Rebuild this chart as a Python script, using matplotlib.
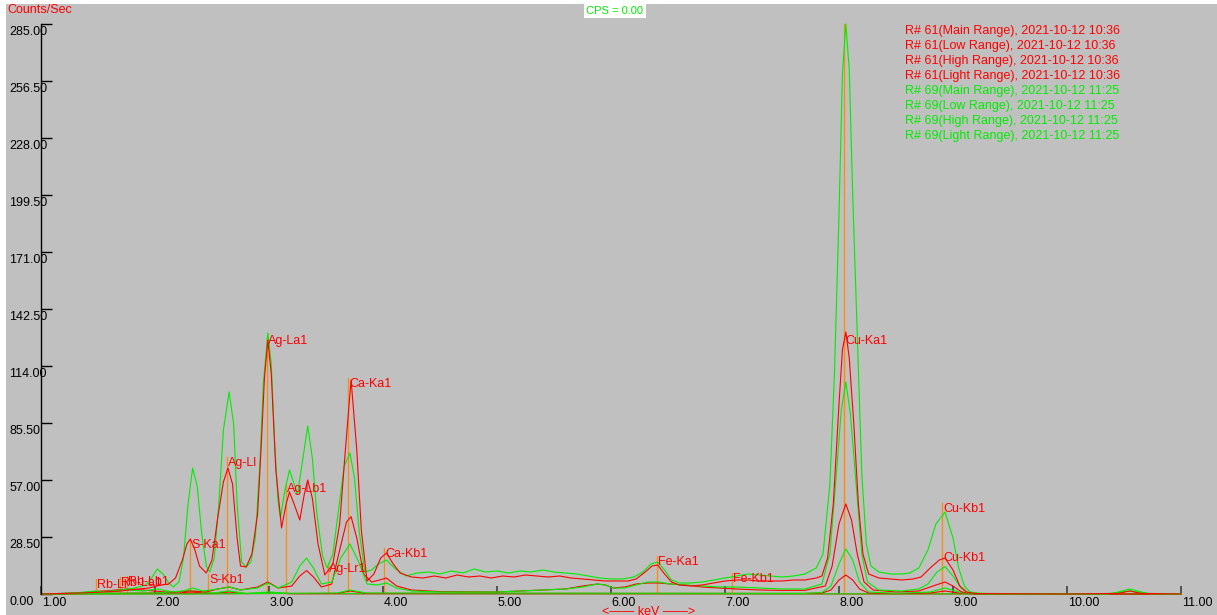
import matplotlib
matplotlib.use('Agg')
import matplotlib.pyplot as plt
from matplotlib.patches import Rectangle

plt.rcParams['font.family'] = ['Liberation Sans', 'DejaVu Sans']

# --- spectra (keV, counts/sec) ---
# R# 61 Main Range
r_main_kev = [1.00, 1.20, 1.40, 1.55, 1.70, 1.85, 1.95, 2.05, 2.12, 2.18, 2.24, 2.28, 2.31, 2.35, 2.39,
              2.45, 2.50, 2.55, 2.60, 2.64, 2.68, 2.72, 2.75, 2.80, 2.85, 2.90, 2.93, 2.96, 2.99, 3.02,
              3.06, 3.11, 3.15, 3.18, 3.22, 3.27, 3.31, 3.34, 3.38, 3.43, 3.49, 3.56, 3.62, 3.67, 3.72,
              3.77, 3.81, 3.86, 3.92, 3.98, 4.03, 4.09, 4.15, 4.25, 4.35, 4.45, 4.55, 4.65, 4.75, 4.85,
              4.95, 5.05, 5.15, 5.25, 5.35, 5.45, 5.55, 5.65, 5.75, 5.85, 5.95, 6.05, 6.15, 6.22, 6.30,
              6.36, 6.41, 6.47, 6.53, 6.60, 6.70, 6.80, 6.90, 7.00, 7.10, 7.20, 7.30, 7.40, 7.50, 7.60,
              7.70, 7.80, 7.85, 7.90, 7.95, 8.00, 8.03, 8.06, 8.09, 8.13, 8.17, 8.21, 8.26, 8.35, 8.45,
              8.55, 8.65, 8.72, 8.80, 8.88, 8.93, 9.00, 9.06, 9.12, 9.20, 10.00, 10.45, 10.55, 10.65, 11.00]
r_main_cps = [0, 0.3, 0.6, 1, 1.5, 2.5, 3, 4.5, 5, 8, 17, 25, 27.5, 22, 14,
              10.5, 17, 38, 56, 63, 55, 28, 14, 13.5, 20, 40, 72, 108, 127, 110,
              62, 33, 45, 51, 45, 37, 50, 57, 48, 25, 9.5, 15, 35, 72, 107,
              72, 32, 6.5, 10, 18, 20.5, 15, 10.5, 8.5, 8, 9, 8, 9.5, 8.5, 9,
              8, 9, 8.5, 9.5, 9, 8.5, 9, 8, 7.5, 7, 6.5, 6.5, 6.5, 7.5, 11,
              14, 14.5, 10, 6, 4.5, 4, 4.5, 5.5, 6.5, 7, 7, 6.5, 6.5, 6.5, 7,
              7, 8, 9, 18, 45, 95, 122, 131, 118, 85, 45, 20, 10, 8, 7.5,
              7, 7.5, 8.5, 13, 17, 18, 12, 4, 1, 0.2, 0, 0.3, 1.5, 0.3, 0]

# R# 61 Low Range
r_low_kev = [1.00, 1.50, 2.00, 2.31, 2.45, 2.55, 2.65, 2.75, 2.90, 2.99, 3.08, 3.20, 3.27, 3.33, 3.39,
             3.46, 3.55, 3.62, 3.68, 3.72, 3.77, 3.83, 3.90, 3.97, 4.03, 4.12, 4.25, 4.50, 5.00, 5.20,
             5.40, 5.60, 5.75, 5.88, 5.95, 6.02, 6.12, 6.22, 6.32, 6.42, 6.52, 6.65, 6.80, 6.95, 7.10,
             7.30, 7.50, 7.70, 7.88, 7.94, 8.00, 8.06, 8.11, 8.16, 8.22, 8.30, 8.50, 8.70, 8.85, 8.93,
             9.00, 9.07, 9.13, 9.25, 11.00]
r_low_cps = [0, 0.3, 0.5, 1.5, 1, 2.5, 3.5, 2, 3.5, 6, 3, 4, 9, 11.7, 8.5,
             3.5, 5, 22, 36, 38.7, 28, 10, 6, 7, 8, 4, 2, 1.2, 1, 1.5,
             2, 2.5, 4, 5, 4.5, 3, 3.5, 5, 5.5, 5.5, 5, 4.5, 3.5, 3, 2.5,
             2, 1.8, 1.8, 4, 14, 35, 45, 37, 20, 6, 2, 1, 1.5, 4.5, 6,
             4, 1.2, 0.3, 0, 0]

# R# 61 High Range
r_high_kev = [1.00, 3.60, 3.71, 3.85, 7.70, 7.85, 7.93, 8.00, 8.06, 8.12, 8.18, 8.26, 8.50, 8.80, 8.93,
              9.05, 9.20, 11.00]
r_high_cps = [0, 0.3, 1.5, 0.3, 0.3, 0.5, 2, 7, 9.5, 7, 2.5, 0.5, 0.2, 0.5, 1.5,
              0.5, 0, 0]

# R# 61 Light Range
r_light_kev = [1.00, 1.30, 1.48, 1.62, 1.75, 1.90, 2.05, 2.20, 2.31, 2.50, 2.65, 2.80, 3.00, 3.20, 11.00]
r_light_cps = [0, 0.4, 1.2, 1.8, 2.5, 2, 1.2, 0.5, 1, 0.3, 1, 0.2, 0.6, 0.1, 0]

# R# 69 Main Range
g_main_kev = [1.00, 1.20, 1.40, 1.55, 1.70, 1.82, 1.92, 1.97, 2.02, 2.07, 2.12, 2.16, 2.21, 2.25, 2.29,
              2.33, 2.37, 2.41, 2.45, 2.48, 2.52, 2.56, 2.60, 2.65, 2.69, 2.72, 2.76, 2.80, 2.84, 2.88,
              2.92, 2.95, 2.99, 3.02, 3.05, 3.08, 3.10, 3.14, 3.18, 3.22, 3.25, 3.29, 3.34, 3.38, 3.42,
              3.47, 3.51, 3.56, 3.61, 3.66, 3.71, 3.75, 3.79, 3.84, 3.90, 3.96, 4.03, 4.10, 4.20, 4.30,
              4.40, 4.50, 4.60, 4.70, 4.80, 4.90, 5.00, 5.10, 5.20, 5.30, 5.40, 5.50, 5.60, 5.70, 5.80,
              5.90, 6.00, 6.10, 6.20, 6.28, 6.35, 6.41, 6.47, 6.53, 6.60, 6.70, 6.80, 6.90, 7.00, 7.10,
              7.20, 7.30, 7.40, 7.50, 7.60, 7.70, 7.80, 7.86, 7.92, 7.96, 8.00, 8.03, 8.06, 8.09, 8.12,
              8.16, 8.20, 8.24, 8.28, 8.35, 8.45, 8.55, 8.62, 8.70, 8.78, 8.85, 8.93, 9.00, 9.05, 9.10,
              9.15, 9.25, 10.00, 10.40, 10.55, 10.70, 11.00]
g_main_cps = [0, 0.3, 0.8, 1.2, 2, 3, 4.5, 8, 12.5, 10, 5.5, 3.5, 6, 18, 45,
              63, 54, 30, 14, 11, 18, 45, 82, 101, 85, 45, 16, 13.5, 16, 28,
              65, 105, 130.5, 115, 75, 46, 38, 52, 62, 55, 50, 65, 84, 68, 40,
              19, 13, 20, 42, 64, 70.5, 58, 32, 11, 12, 15, 17, 13, 9, 10.5,
              11, 10, 11.5, 10.5, 12.5, 11, 11.5, 10.5, 11.5, 11, 12, 11, 10.5, 10, 9,
              8, 7.5, 7.5, 8.5, 11, 15, 16, 12, 7, 5.5, 5.5, 6, 7, 8, 9,
              10, 9.5, 9, 8.5, 9, 10, 13, 20, 55, 110, 190, 260, 285, 262, 200,
              130, 60, 25, 14, 11, 10, 10, 10.5, 13, 22, 35, 41, 28, 13, 4,
              1, 0.3, 0, 0.3, 2.5, 0.3, 0]

# R# 69 Low Range
g_low_kev = [1.00, 1.50, 2.00, 2.25, 2.33, 2.42, 2.55, 2.65, 2.75, 2.90, 2.99, 3.08, 3.20, 3.27, 3.33,
             3.39, 3.46, 3.55, 3.63, 3.71, 3.78, 3.86, 3.95, 4.03, 4.12, 4.25, 4.50, 4.80, 5.00, 5.20,
             5.40, 5.60, 5.75, 5.88, 5.95, 6.02, 6.12, 6.22, 6.32, 6.42, 6.52, 6.65, 6.80, 6.95, 7.10,
             7.30, 7.50, 7.70, 7.85, 7.92, 7.97, 8.02, 8.06, 8.10, 8.15, 8.20, 8.25, 8.35, 8.55, 8.70,
             8.78, 8.86, 8.93, 9.00, 9.07, 9.13, 9.25, 10.35, 10.55, 10.72, 11.00]
g_low_cps = [0, 0.3, 0.5, 1.5, 3, 1.5, 2.5, 3.5, 2, 3, 5.5, 3, 6, 14, 18,
             13, 5, 6, 18, 25, 17, 5, 4.5, 5.5, 3, 1.5, 1, 1, 1, 1.5,
             2, 2.5, 3.5, 5, 4.5, 3, 3, 4.5, 6, 6, 5, 4.5, 4, 3.5, 3.5,
             3, 2.5, 2.5, 5, 20, 55, 92, 106, 90, 55, 20, 6, 2, 1.5, 2.5,
             5, 11, 13.7, 9, 3, 0.5, 0, 0, 1.5, 0.2, 0]

# R# 69 High Range
g_high_kev = [1.00, 2.30, 3.60, 3.71, 3.85, 7.70, 7.85, 7.93, 8.00, 8.06, 8.12, 8.18, 8.26, 8.50, 8.80,
              8.93, 9.05, 9.12, 9.30, 11.00]
g_high_cps = [0, 0, 0.5, 2, 0.5, 0.3, 0.8, 4, 15, 22.5, 17, 6, 1, 0.3, 1,
              3, 1, 0.2, 0, 0]

# R# 69 Light Range
g_light_kev = [1.00, 1.30, 1.48, 1.60, 1.75, 1.90, 2.02, 2.15, 2.33, 2.50, 2.65, 2.80, 3.00, 3.20, 11.00]
g_light_cps = [0, 0.5, 1.5, 1, 2, 1.5, 2.5, 1, 1.5, 0.5, 1.5, 0.3, 1, 0.2, 0]

# --- element markers: name, energy (keV), marker height (cps) ---
line_names = ['Rb-Ll', 'Rb-La1', 'Rb-Lb1', 'S-Ka1', 'S-Kb1', 'Ag-Ll', 'Ag-La1', 'Ag-Lb1', 'Ag-Lr1',
              'Ca-Ka1', 'Ca-Kb1', 'Fe-Ka1', 'Fe-Kb1', 'Cu-Ka1', 'Cu-Ka1', 'Cu-Kb1', 'Cu-Kb1']
line_kev = [1.482, 1.694, 1.752, 2.307, 2.464, 2.634, 2.984, 3.151, 3.520,
            3.691, 4.012, 6.400, 7.058, 8.048, 8.048, 8.905, 8.905]
line_top = [7.5, 8.5, 9, 27.5, 10, 68.5, 129.5, 55.5, 15.5,
            108, 23, 19, 10.5, 286, 129.5, 45.5, 21]

legend_text = ['R# 61(Main Range), 2021-10-12 10:36',
               'R# 61(Low Range), 2021-10-12 10:36',
               'R# 61(High Range), 2021-10-12 10:36',
               'R# 61(Light Range), 2021-10-12 10:36',
               'R# 69(Main Range), 2021-10-12 11:25',
               'R# 69(Low Range), 2021-10-12 11:25',
               'R# 69(High Range), 2021-10-12 11:25',
               'R# 69(Light Range), 2021-10-12 11:25']

x_ticks = [1, 2, 3, 4, 5, 6, 7, 8, 9, 10, 11]
y_ticks = [0, 28.5, 57, 85.5, 114, 142.5, 171, 199.5, 228, 256.5, 285]

RED = '#ff0000'
GREEN = '#00ee00'
ORANGE = '#ff8a10'
BG = '#c0c0c0'

W, H = 1217, 615
fig = plt.figure(figsize=(W / 100, H / 100), dpi=100, facecolor='white')
fig.patches.append(Rectangle((6 / W, 0), 1, 1 - 4 / H, transform=fig.transFigure,
                             facecolor=BG, edgecolor='none', zorder=-10))

ax = fig.add_axes([41 / W, 21 / H, 1140 / W, 570 / H])
ax.set_xlim(1, 11)
ax.set_ylim(0, 285)
ax.patch.set_visible(False)
for side in ['top', 'right', 'bottom']:
    ax.spines[side].set_visible(False)
ax.spines['left'].set_color('black')
ax.spines['left'].set_linewidth(1)

ax.set_xticks(x_ticks)
ax.set_yticks(y_ticks)
ax.tick_params(axis='x', direction='in', length=6, width=1.2, color='#404040', labelbottom=False)
ax.tick_params(axis='y', direction='in', length=8, width=1, color='black', labelleft=False)

for v in x_ticks:
    ax.annotate(f'{v:.2f}', (v, 0), xycoords=('data', 'axes fraction'), xytext=(0.5, -2.5),
                textcoords='offset points', ha='left', va='top', fontsize=9, color='black')
for v in y_ticks:
    ax.annotate(f'{v:.2f}', (0, v), xycoords=('axes fraction', 'data'), xytext=(-23, -1.5),
                textcoords='offset points', ha='left', va='top', fontsize=9, color='black')

# element marker lines with their names
for name, kev, top in zip(line_names, line_kev, line_top):
    ax.plot([kev, kev], [0, top], color=ORANGE, lw=0.9, zorder=1)
    ax.annotate(name, (kev, top), xytext=(0.8, 0), textcoords='offset points',
                ha='left', va='top', fontsize=9, color=RED, zorder=5)

series = [(r_light_kev, r_light_cps, RED), (g_light_kev, g_light_cps, GREEN),
          (r_high_kev, r_high_cps, RED), (g_high_kev, g_high_cps, GREEN),
          (r_low_kev, r_low_cps, RED), (g_low_kev, g_low_cps, GREEN),
          (g_main_kev, g_main_cps, GREEN), (r_main_kev, r_main_cps, RED)]
for kev, cps, col in series:
    ax.plot(kev, cps, color=col, lw=0.8, clip_on=False, zorder=2)

for i, txt in enumerate(legend_text):
    fig.text(905 / W, 1 - (31 + 15 * i) / H, txt, fontsize=9, va='center', ha='left',
             color=RED if i < 4 else GREEN)

fig.text(7 / W, 1 - 10 / H, 'Counts/Sec', fontsize=9, color=RED, va='center', ha='left')
fig.text(615 / W, 1 - 11 / H, 'CPS = 0.00', fontsize=8, color=GREEN, va='center', ha='center',
         bbox=dict(facecolor='white', edgecolor='none', pad=1.5))
fig.text(649 / W, 1 - 606 / H, '<—— keV ——>', fontsize=9, color=RED, va='top', ha='center')

fig.savefig('out.png', dpi=100, facecolor=fig.get_facecolor())
